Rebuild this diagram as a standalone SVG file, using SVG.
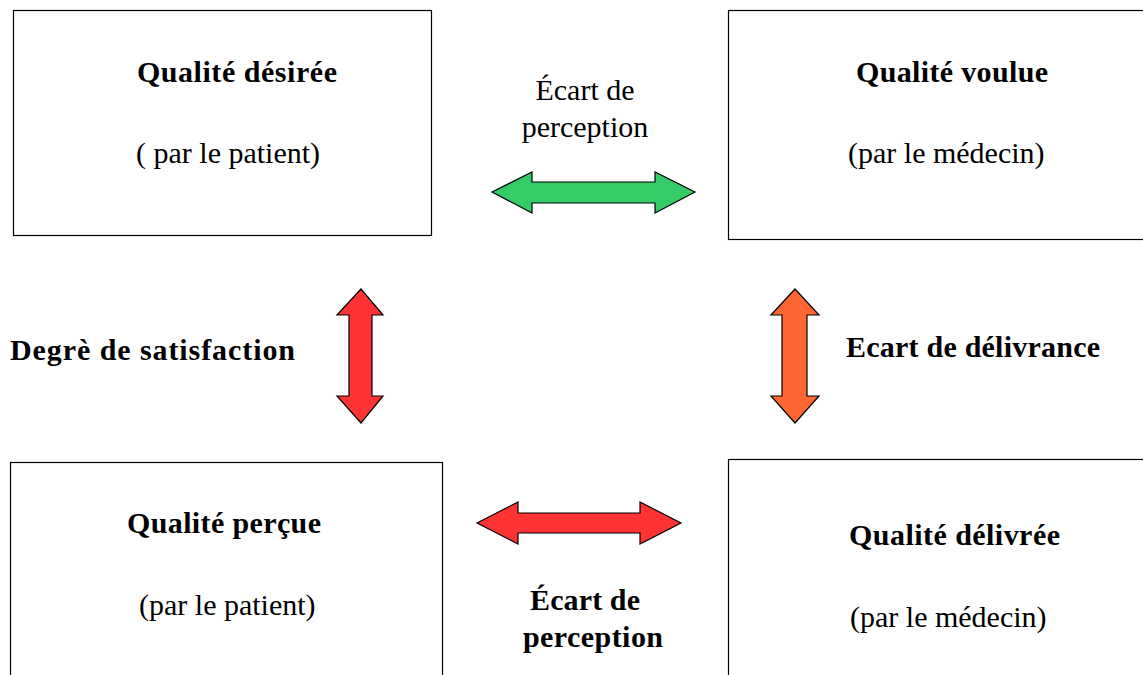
<svg xmlns="http://www.w3.org/2000/svg" width="1143" height="675" viewBox="0 0 1143 675">
<style>
.box{fill:#fff;stroke:#000;stroke-width:1.2}
.b{font-family:"Liberation Serif","Times New Roman",serif;font-weight:bold;font-size:30px;fill:#000}
.r{font-family:"Liberation Serif","Times New Roman",serif;font-size:30px;fill:#000}
.arr{stroke:#000;stroke-width:1.2;stroke-linejoin:miter}
</style>
<rect width="1143" height="675" fill="#fff"/>
<g id="n1"><rect class="box" x="13.5" y="10.5" width="418" height="225"/>
<text class="b" x="137" y="82" textLength="200" lengthAdjust="spacing">Qualité désirée</text>
<text class="r" x="136" y="163">( par le patient)</text></g>
<g id="n2"><rect class="box" x="728.5" y="10.5" width="420" height="229"/>
<text class="b" x="856" y="82" textLength="192" lengthAdjust="spacing">Qualité voulue</text>
<text class="r" x="848" y="163">(par le médecin)</text></g>
<g id="n3"><rect class="box" x="10.5" y="462.5" width="432" height="220"/>
<text class="b" x="127" y="533" textLength="194" lengthAdjust="spacing">Qualité perçue</text>
<text class="r" x="139" y="615">(par le patient)</text></g>
<g id="n4"><rect class="box" x="728.5" y="459.5" width="420" height="220"/>
<text class="b" x="849" y="545" textLength="211" lengthAdjust="spacing">Qualité délivrée</text>
<text class="r" x="850" y="627">(par le médecin)</text></g>
<g id="connectors">
<polygon class="arr" fill="#33cc66" points="492,192 532,172 532,182 655,182 655,172 695,192 655,213 655,203 532,203 532,213"/>
<polygon class="arr" fill="#ff3333" points="361,289 383,315 372,315 372,396 383,396 361,423 337,396 349,396 349,315 337,315"/>
<polygon class="arr" fill="#ff6633" points="795,289 819,315 807,315 807,396 819,396 795,423 771,396 782,396 782,315 771,315"/>
<polygon class="arr" fill="#ff3333" points="477,523 518,502 518,513 640,513 640,502 681,523 640,544 640,533 518,533 518,544"/>
</g>
<g id="labels">
<text class="r" x="585" y="100" text-anchor="middle">Écart de</text>
<text class="r" x="585" y="137" text-anchor="middle">perception</text>
<text class="b" x="10" y="360" textLength="285" lengthAdjust="spacing">Degrè de satisfaction</text>
<text class="b" x="846" y="357" textLength="254" lengthAdjust="spacing">Ecart de délivrance</text>
<text class="b" x="530" y="610" textLength="110" lengthAdjust="spacing">Écart de</text>
<text class="b" x="523" y="647" textLength="140" lengthAdjust="spacing">perception</text>
</g>
</svg>
